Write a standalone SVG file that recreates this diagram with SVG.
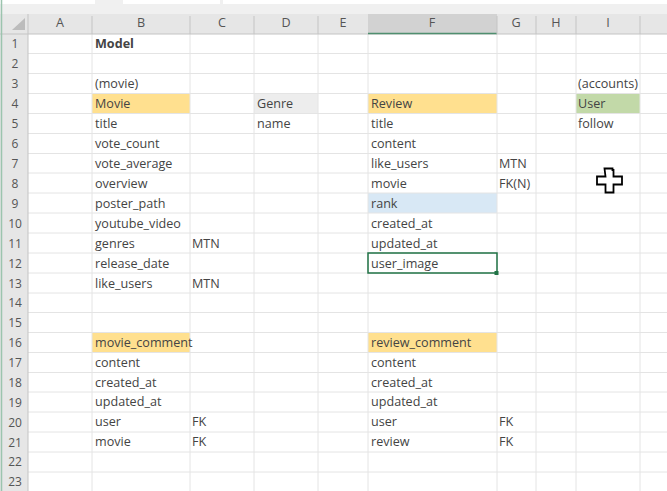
<svg xmlns="http://www.w3.org/2000/svg" width="667" height="491" viewBox="0 0 667 491">
<style>
text{font-family:"Open Sans","Noto Sans","Liberation Sans",sans-serif;font-size:12.6px;fill:#444}
.g line{stroke:#e4e4e4;stroke-width:1}
.h text{font-size:12.6px;fill:#555;text-anchor:middle}
.r text{font-size:12px;fill:#555;text-anchor:middle}
.s{stroke:#c4c4c4;stroke-width:1}
</style>
<rect width="667" height="491" fill="#fff"/>
<rect y="0" width="667" height="14" fill="#f0f0f0"/>
<rect x="0" y="0" width="95" height="4" fill="#fff"/><rect x="123" y="0" width="97" height="4" fill="#fff"/><rect x="223" y="0" width="444" height="4" fill="#fff"/>
<rect y="14" width="667" height="20" fill="#e6e6e6"/>
<rect x="0" y="34" width="28" height="457" fill="#e6e6e6"/>
<rect id="fill-movie" x="92" y="93.500" width="98" height="20" fill="#ffe08f"/>
<rect id="fill-genre" x="254" y="93.500" width="64" height="20" fill="#ededed"/>
<rect id="fill-review" x="368" y="93.500" width="129" height="20" fill="#ffe08f"/>
<rect id="fill-user" x="576" y="93.500" width="64" height="20" fill="#c2d9a8"/>
<rect id="fill-rank" x="368" y="193" width="129" height="20" fill="#d8e8f5"/>
<rect id="fill-mc" x="92" y="332.500" width="98" height="20" fill="#ffe08f"/>
<rect id="fill-rc" x="368" y="332.500" width="129" height="20" fill="#ffe08f"/>
<g class="g">
<line x1="28" x2="667" y1="53.500" y2="53.500"/><line x1="28" x2="667" y1="73.500" y2="73.500"/><line x1="28" x2="667" y1="93.500" y2="93.500"/><line x1="28" x2="667" y1="113.500" y2="113.500"/><line x1="28" x2="667" y1="133.500" y2="133.500"/><line x1="28" x2="667" y1="153.500" y2="153.500"/><line x1="28" x2="667" y1="173" y2="173"/><line x1="28" x2="667" y1="193" y2="193"/><line x1="28" x2="667" y1="213" y2="213"/><line x1="28" x2="667" y1="233" y2="233"/><line x1="28" x2="667" y1="253" y2="253"/><line x1="28" x2="667" y1="273" y2="273"/><line x1="28" x2="667" y1="293" y2="293"/><line x1="28" x2="667" y1="312.500" y2="312.500"/><line x1="28" x2="667" y1="332.500" y2="332.500"/><line x1="28" x2="667" y1="352.500" y2="352.500"/><line x1="28" x2="667" y1="372.500" y2="372.500"/><line x1="28" x2="667" y1="392" y2="392"/><line x1="28" x2="667" y1="412" y2="412"/><line x1="28" x2="667" y1="432" y2="432"/><line x1="28" x2="667" y1="452" y2="452"/><line x1="28" x2="667" y1="472" y2="472"/>
<line x1="92" x2="92" y1="34" y2="491"/><line x1="190" x2="190" y1="34" y2="491"/><line x1="254" x2="254" y1="34" y2="491"/><line x1="318" x2="318" y1="34" y2="491"/><line x1="368" x2="368" y1="34" y2="491"/><line x1="497" x2="497" y1="34" y2="491"/><line x1="536" x2="536" y1="34" y2="491"/><line x1="576" x2="576" y1="34" y2="491"/><line x1="640" x2="640" y1="34" y2="491"/>
</g>
<g id="col-headers" class="h">
<polygon points="12,30 25,30 25,18" fill="#bcbcbc"/>
<rect x="368" y="14" width="129" height="20" fill="#d2d2d2"/>
<line class="s" x1="0" x2="667" y1="34" y2="34"/>
<line x1="368" x2="497" y1="33.500" y2="33.500" stroke="#4f8f6f" stroke-width="1.500"/>
<line class="s" x1="28" x2="28" y1="14" y2="491"/><line class="s" x1="92" x2="92" y1="16" y2="34"/><line class="s" x1="190" x2="190" y1="16" y2="34"/><line class="s" x1="254" x2="254" y1="16" y2="34"/><line class="s" x1="318" x2="318" y1="16" y2="34"/><line class="s" x1="497" x2="497" y1="16" y2="34"/><line class="s" x1="536" x2="536" y1="16" y2="34"/><line class="s" x1="576" x2="576" y1="16" y2="34"/><line class="s" x1="640" x2="640" y1="16" y2="34"/>
<text x="60" y="27">A</text><text x="141" y="27">B</text><text x="222" y="27">C</text><text x="286" y="27">D</text><text x="343" y="27">E</text><text x="432" y="27" fill="#2f6f4f">F</text><text x="516" y="27">G</text><text x="556" y="27">H</text><text x="608" y="27">I</text>
</g>
<g id="row-headers" class="r">
<line x1="1.500" x2="1.500" y1="0" y2="491" stroke="#9cc4ae" stroke-width="1.500"/>
<text x="15" y="48">1</text><text x="15" y="68">2</text><text x="15" y="88">3</text><text x="15" y="108">4</text><text x="15" y="128">5</text><text x="15" y="148">6</text><text x="15" y="168">7</text><text x="15" y="188">8</text><text x="15" y="208">9</text><text x="15" y="228">10</text><text x="15" y="248">11</text><text x="15" y="268" fill="#2f6f4f">12</text><text x="15" y="288">13</text><text x="15" y="307">14</text><text x="15" y="327">15</text><text x="15" y="347">16</text><text x="15" y="367">17</text><text x="15" y="387">18</text><text x="15" y="407">19</text><text x="15" y="427">20</text><text x="15" y="447">21</text><text x="15" y="466">22</text><text x="15" y="486">23</text>
</g>
<g id="col-b">
<text x="95" y="48" font-weight="700" fill="#222">Model</text>
<text x="95" y="88">(movie)</text><text x="95" y="108">Movie</text><text x="95" y="128">title</text><text x="95" y="148">vote_count</text><text x="95" y="168">vote_average</text><text x="95" y="188">overview</text><text x="95" y="208">poster_path</text><text x="95" y="228">youtube_video</text><text x="95" y="248">genres</text><text x="95" y="268">release_date</text><text x="95" y="288">like_users</text>
<text x="95" y="347">movie_comment</text><text x="95" y="367">content</text><text x="95" y="387">created_at</text><text x="95" y="406">updated_at</text><text x="95" y="426">user</text><text x="95" y="446">movie</text>
</g>
<g id="col-c"><text x="192" y="248">MTN</text><text x="192" y="288">MTN</text><text x="192" y="426">FK</text><text x="192" y="446">FK</text></g>
<g id="col-d"><text x="257" y="108">Genre</text><text x="257" y="128">name</text></g>
<g id="col-f">
<text x="371" y="108">Review</text><text x="371" y="128">title</text><text x="371" y="148">content</text><text x="371" y="168">like_users</text><text x="371" y="188">movie</text><text x="371" y="208">rank</text><text x="371" y="228">created_at</text><text x="371" y="248">updated_at</text><text x="371" y="268">user_image</text>
<text x="371" y="347">review_comment</text><text x="371" y="367">content</text><text x="371" y="387">created_at</text><text x="371" y="406">updated_at</text><text x="371" y="426">user</text><text x="371" y="446">review</text>
</g>
<g id="col-g"><text x="499" y="168">MTN</text><text x="499" y="188">FK(N)</text><text x="499" y="426">FK</text><text x="499" y="446">FK</text></g>
<g id="col-i"><text x="578" y="88">(accounts)</text><text x="578" y="108">User</text><text x="578" y="128">follow</text></g>
<g id="selection"><rect x="368" y="253" width="129" height="20" fill="none" stroke="#217346" stroke-width="1.500"/><rect x="494.500" y="271" width="4" height="4" fill="#217346"/></g>
<g id="cursor"><path d="M604.500 168.500h8v1.500h1v6.500h8.500v8h-8.500v8h-8v-8h-8.500v-8h8.500z" fill="#fff" stroke="#000" stroke-width="1.800"/></g>
</svg>
